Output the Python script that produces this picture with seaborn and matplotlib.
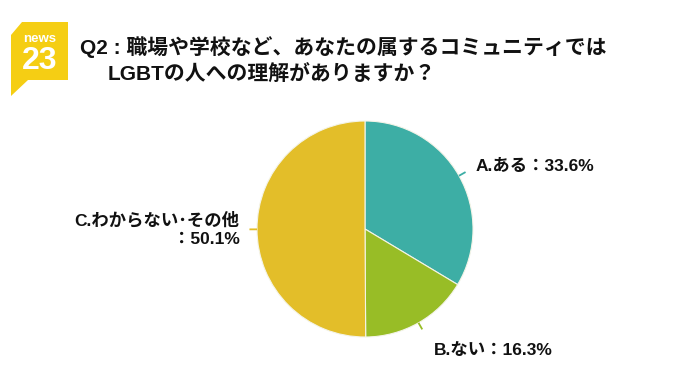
import numpy as np
import matplotlib
matplotlib.use("Agg")
import matplotlib.pyplot as plt
import seaborn as sns
from matplotlib.patches import Polygon

# data
labels = ["A.ある：33.6%", "B.ない：16.3%", "C.わからない･その他\n：50.1%"]
shares = [33.6, 16.3, 50.1]
colors = ["#3DAEA5", "#98BD26", "#E3BE29"]
label_r = [1.18, 1.29, 1.16]
title_1 = "Q2 : 職場や学校など、あなたの属するコミュニティでは"
title_2 = "LGBTの人への理解がありますか？"

sns.set_theme(style="white")
plt.rcParams["font.family"] = ["Liberation Sans", "Noto Sans CJK JP", "DejaVu Sans"]

W, H = 680, 382
fig = plt.figure(figsize=(W / 100, H / 100), dpi=100)
fig.patch.set_facecolor("white")

# pie axes: centre (365, 229) px, radius 108 px
cx, cy, r = 365, 229, 108
ax = fig.add_axes([(cx - r) / W, (H - cy - r) / H, 2 * r / W, 2 * r / H])
wedges, _ = ax.pie(
    shares,
    colors=colors,
    startangle=90,
    counterclock=False,
    radius=1,
    wedgeprops=dict(edgecolor="#f4f4e8", linewidth=0.8),
)
ax.set_xlim(-1, 1)
ax.set_ylim(-1, 1)
ax.set_aspect("equal")
ax.axis("off")

# leader ticks + labels
for w, lab, lr, col in zip(wedges, labels, label_r, colors):
    ang = np.deg2rad((w.theta1 + w.theta2) / 2)
    c, s = np.cos(ang), np.sin(ang)
    ax.plot([c * 1.0, c * 1.07], [s * 1.0, s * 1.07], color=col, lw=1.3,
            clip_on=False, solid_capstyle="butt")
    ha = "left" if c > 0 else "right"
    ax.text(c * lr, s * lr, lab, ha=ha, va="center", multialignment="right",
            fontsize=12.5, fontweight="bold", color="#111111", clip_on=False,
            linespacing=1.25)

# logo
logo = Polygon(
    [(22 / W, 1 - 22 / H), (68 / W, 1 - 22 / H), (68 / W, 1 - 80 / H),
     (28 / W, 1 - 80 / H), (11 / W, 1 - 96 / H), (11 / W, 1 - 35 / H)],
    closed=True, transform=fig.transFigure, facecolor="#F5CE14", edgecolor="none")
fig.patches.append(logo)
fig.text(40 / W, 1 - 39 / H, "news", ha="center", va="center", fontsize=9.5,
         fontweight="bold", color="white", family=["Liberation Sans"])
fig.text(40 / W, 1 - 61 / H, "23", ha="center", va="center", fontsize=23,
         fontweight="bold", color="white", family=["Liberation Sans"])

# title
fig.text(80 / W, 1 - 47 / H, title_1, ha="left", va="center", fontsize=15,
         fontweight="bold", color="#111111")
fig.text(108 / W, 1 - 75 / H, title_2, ha="left", va="center", fontsize=15,
         fontweight="bold", color="#111111")

fig.savefig("out.png", dpi=100, facecolor="white")
